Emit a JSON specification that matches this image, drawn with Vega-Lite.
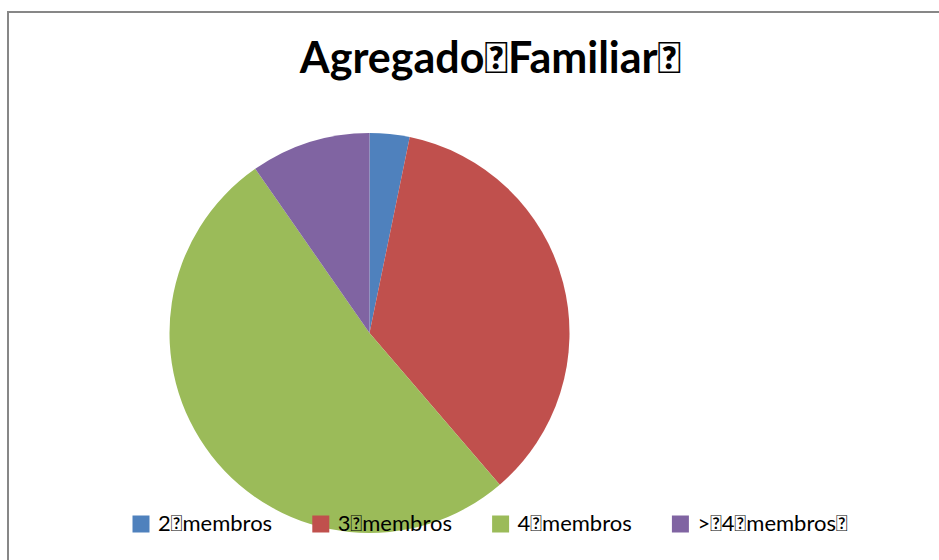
{
  "$schema": "https://vega.github.io/schema/vega-lite/v6.json",
  "width": 723,
  "height": 642,
  "autosize": {"type": "none"},
  "padding": {"left": 8, "top": 12, "right": 208, "bottom": 0},
  "background": "white",
  "config": {
    "view": {"stroke": null},
    "font": "Lato"
  },
  "title": {
    "text": "Agregado\uF020Familiar\uF020",
    "font": "Lato",
    "fontSize": 43,
    "fontWeight": "bold",
    "color": "#000000",
    "anchor": "middle",
    "baseline": "alphabetic",
    "offset": 0,
    "dx": 121,
    "dy": 105
  },
  "layer": [
    {
      "data": {"values": [{"moldura": "area do grafico"}]},
      "mark": {
        "type": "rect",
        "fill": null,
        "stroke": "#878787",
        "strokeWidth": 2,
        "strokeDash": [940, 642, 1700]
      },
      "encoding": {
        "x": {"value": 0},
        "x2": {"value": 940}
      }
    },
    {
      "data": {
        "values": [
          {"grupo": "2\uF020membros", "n": 1, "ordem": 1},
          {"grupo": "3\uF020membros", "n": 11, "ordem": 2},
          {"grupo": "4\uF020membros", "n": 16, "ordem": 3},
          {"grupo": ">\uF0204\uF020membros\uF020", "n": 3, "ordem": 4}
        ]
      },
      "mark": {"type": "arc", "outerRadius": 200},
      "encoding": {
        "theta": {"field": "n", "type": "quantitative", "stack": true},
        "order": {"field": "ordem", "type": "quantitative"},
        "color": {
          "field": "grupo",
          "type": "nominal",
          "sort": null,
          "scale": {
            "domain": ["2\uF020membros", "3\uF020membros", "4\uF020membros", ">\uF0204\uF020membros\uF020"],
            "range": ["#4F81BD", "#C0504D", "#9BBB59", "#8064A2"]
          },
          "legend": {
            "title": null,
            "orient": "none",
            "legendX": 122,
            "legendY": 501,
            "direction": "horizontal",
            "columns": 4,
            "gridAlign": "all",
            "columnPadding": 0.8,
            "symbolType": "square",
            "symbolSize": 289,
            "symbolStrokeWidth": 0,
            "labelFont": "Lato",
            "labelFontSize": 22,
            "labelColor": "#000000",
            "labelOffset": 6,
            "labelLimit": 0
          }
        }
      }
    }
  ]
}
